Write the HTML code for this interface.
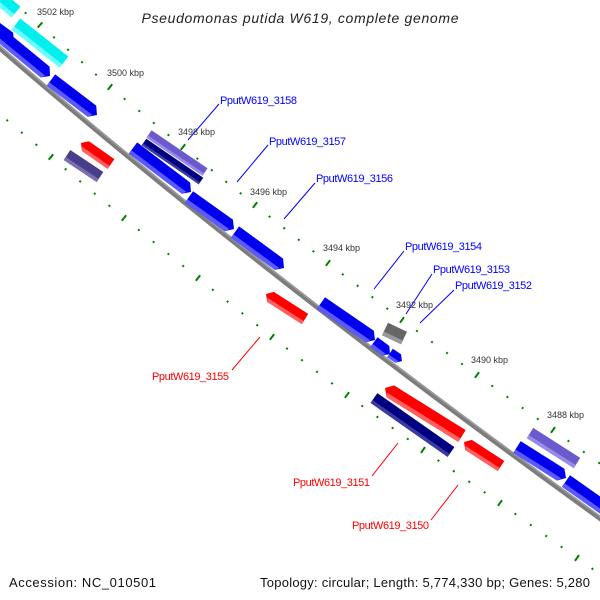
<!DOCTYPE html>
<html><head><meta charset="utf-8"><style>
html,body{margin:0;padding:0;background:#fff;}
svg{display:block;}
</style></head><body>
<svg id="s" width="600" height="600" viewBox="0 0 600 600" xmlns="http://www.w3.org/2000/svg">
<rect width="600" height="600" fill="#fff"/>
<g id="ticks"></g>
<path d="M-5,44 Q253,268 605,522" fill="none" stroke="#7c7c7c" stroke-width="5"/>
<path d="M-5,42 Q253,266 605,520" fill="none" stroke="#9a9a9a" stroke-width="1.5"/>
<g id="feats"></g>
<g font-family="Liberation Sans, sans-serif" font-size="9" fill="#333">
<text x="37" y="15">3502 kbp</text>
<text x="107" y="76">3500 kbp</text>
<text x="178" y="135">3498 kbp</text>
<text x="250" y="195">3496 kbp</text>
<text x="323" y="251">3494 kbp</text>
<text x="396" y="308">3492 kbp</text>
<text x="471" y="363">3490 kbp</text>
<text x="547" y="418">3488 kbp</text>
</g>
<g font-family="Liberation Sans, sans-serif" font-size="11" fill="#0000ff">
<text x="220" y="104" textLength="77">PputW619_3158</text>
<text x="269" y="145" textLength="77">PputW619_3157</text>
<text x="316" y="182" textLength="77">PputW619_3156</text>
<text x="405" y="250" textLength="77">PputW619_3154</text>
<text x="433" y="273" textLength="77">PputW619_3153</text>
<text x="455" y="289" textLength="77">PputW619_3152</text>
</g>
<g stroke="#0000ff" stroke-width="1">
<line x1="219" y1="104" x2="188" y2="140"/>
<line x1="268" y1="145" x2="237" y2="182"/>
<line x1="315" y1="183" x2="284" y2="219"/>
<line x1="404" y1="251" x2="374" y2="289"/>
<line x1="432" y1="274" x2="406" y2="314"/>
<line x1="454" y1="290" x2="420" y2="323"/>
</g>
<g font-family="Liberation Sans, sans-serif" font-size="11" fill="#ff0000">
<text x="152" y="380" textLength="77">PputW619_3155</text>
<text x="293" y="486" textLength="77">PputW619_3151</text>
<text x="352" y="529" textLength="77">PputW619_3150</text>
</g>
<g stroke="#ff0000" stroke-width="1">
<line x1="232" y1="370" x2="260" y2="337"/>
<line x1="372" y1="476" x2="398" y2="443"/>
<line x1="431" y1="520" x2="458" y2="485"/>
</g>
<text x="300" y="23" text-anchor="middle" font-family="Liberation Sans, sans-serif" font-style="italic" font-size="14" fill="#222" textLength="317">Pseudomonas putida W619, complete genome</text>
<text x="9" y="587" font-family="Liberation Sans, sans-serif" font-size="13" fill="#111" textLength="147">Accession: NC_010501</text>
<text x="260" y="587" font-family="Liberation Sans, sans-serif" font-size="13" fill="#111" textLength="330">Topology: circular; Length: 5,774,330 bp; Genes: 5,280</text>
</svg>
<script>
var NS="http://www.w3.org/2000/svg";
function el(p,tag,a){var e=document.createElementNS(NS,tag);for(var k in a)e.setAttribute(k,a[k]);p.appendChild(e);return e;}
var F=document.getElementById("feats"),T=document.getElementById("ticks");
function pt(a){return a.map(function(p){return p[0].toFixed(1)+","+p[1].toFixed(1)}).join(" ");}
function feat(x1,y1,x2,y2,h,col,light,tip){
  var dx=x2-x1,dy=y2-y1,L=Math.sqrt(dx*dx+dy*dy),ux=dx/L,uy=dy/L,nx=-uy,ny=ux;
  function P(s,t){return [x1+ux*s+nx*t,y1+uy*s+ny*t];}
  var a=h*0.45,hh=h/2,poly,lp;
  if(tip==1){poly=[P(0,-hh),P(L-a,-hh),P(L,0),P(L-a,hh),P(0,hh)];
    lp=[P(0,hh*0.4),P(L-a*0.6,hh*0.4),P(L-a,hh),P(0,hh)];}
  else if(tip==-1){poly=[P(a,-hh),P(L,-hh),P(L,hh),P(a,hh),P(0,0)];
    lp=[P(a*0.6,hh*0.4),P(L,hh*0.4),P(L,hh),P(a,hh)];}
  else{poly=[P(0,-hh),P(L,-hh),P(L,hh),P(0,hh)];lp=[P(0,hh*0.4),P(L,hh*0.4),P(L,hh),P(0,hh)];}
  el(F,"polygon",{points:pt(poly),fill:col});
  el(F,"polygon",{points:pt(lp),fill:light});
}
var B="#0000ee",BL="#5a5aff";
feat(-20,17,14,42,14,B,BL,1);
feat(-6,30,50,76,14,B,BL,1);
feat(51,80,97,115,14,B,BL,1);
feat(133,148,191,192,14,B,BL,1);
feat(189,197,234,229,14,B,BL,1);
feat(235,232,284,268,14,B,BL,1);
feat(321,303,375,340,14,B,BL,1);
feat(374,342,390,354,12,B,BL,1);
feat(390,353,402,361,10,B,BL,1);
feat(517,447,566,478,14,B,BL,1);
feat(566,481,610,512,14,B,BL,1);
feat(385,329,404,338,14,"#666","#999",0);
feat(-10,-10,16,12,14,"#00eeee","#66ffff",0);
feat(16,24,64,62,14,"#00eeee","#66ffff",0);
feat(149,134,205,172,9,"#6a5acd","#9a8ae8",0);
feat(144,142,201,181,8,"#000080","#3a3aa0",0);
feat(530,433,577,463,12,"#6a5acd","#9a8ae8",0);
var R="#ff0000",RL="#ff6060";
feat(81,143,111,164,12,R,RL,-1);
feat(67,155,100,177,12,"#483d8b","#7a70b0",0);
feat(266,294,305,319,12,R,RL,-1);
feat(385,388,462,436,14,R,RL,-1);
feat(374,398,451,452,12,"#000080","#3a3aa0",0);
feat(464,442,501,466,12,R,RL,-1);
function ticks(maj){
  for(var i=0;i<maj.length-1;i++){
    var a=maj[i],b=maj[i+1];
    for(var j=0;j<5;j++){
      var x=a[0]+(b[0]-a[0])*j/5,y=a[1]+(b[1]-a[1])*j/5;
      var dx=b[0]-a[0],dy=b[1]-a[1],L=Math.sqrt(dx*dx+dy*dy),nx=dy/L,ny=-dx/L;
      var l=(j==0)?3.5:1;
      el(T,"line",{x1:x-nx*l,y1:y-ny*l,x2:x+nx*l,y2:y+ny*l,stroke:"#008000","stroke-width":(j==0)?2:2});
    }
  }
}
ticks([[-32,-35],[40,25],[110,87],[183,147],[255,205],[328,263],[402,320],[477,375],[553,430],[630,485]]);
ticks([[-22,96],[51,157],[124,218],[198,278],[272,337],[347,395],[423,450],[500,503],[577,558],[654,612]]);
</script>
</body></html>
